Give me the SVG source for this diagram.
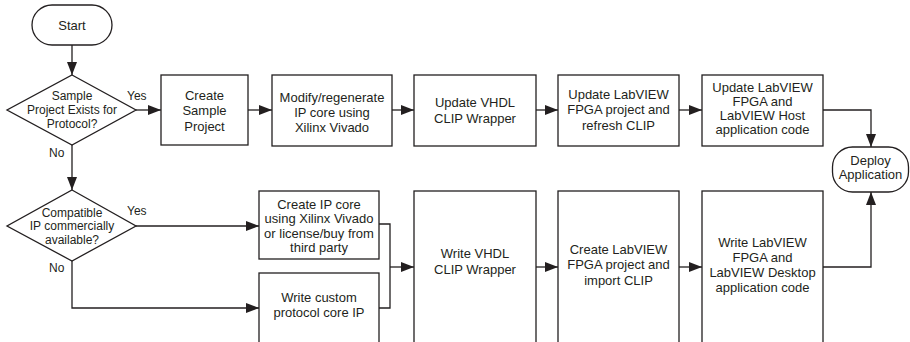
<svg xmlns="http://www.w3.org/2000/svg" width="910" height="342" viewBox="0 0 910 342">
<defs>
<marker id="arr" markerUnits="userSpaceOnUse" markerWidth="13" markerHeight="10" refX="13" refY="5" orient="auto">
<path d="M0,0 L13,5 L0,10 z" fill="#231f20"/>
</marker>
<style>
.shape{fill:#fff;stroke:#231f20;stroke-width:1.3}
.t{font-family:"Liberation Sans",Arial,sans-serif;font-size:13px;fill:#231f20;text-anchor:middle}
.s{font-family:"Liberation Sans",Arial,sans-serif;font-size:12px;fill:#231f20;text-anchor:middle}
.l{font-family:"Liberation Sans",Arial,sans-serif;font-size:12px;fill:#231f20}
.c{fill:none;stroke:#231f20;stroke-width:1.3}
</style>
</defs>
<rect width="910" height="342" fill="#fff"/>
<g id="connectors">
<path class="c" d="M72,45 V75" marker-end="url(#arr)"/>
<path class="c" d="M136,110 H161" marker-end="url(#arr)"/>
<path class="c" d="M248,110 H272" marker-end="url(#arr)"/>
<path class="c" d="M392,110 H414" marker-end="url(#arr)"/>
<path class="c" d="M536,110 H558" marker-end="url(#arr)"/>
<path class="c" d="M679,110 H702" marker-end="url(#arr)"/>
<path class="c" d="M823,110 H871 V147" marker-end="url(#arr)"/>
<path class="c" d="M72,145 V190" marker-end="url(#arr)"/>
<path class="c" d="M136,226 H259" marker-end="url(#arr)"/>
<path class="c" d="M72,261 V308 H259" marker-end="url(#arr)"/>
<path class="c" d="M379,224 H390 V308 H379"/>
<path class="c" d="M390,267 H414" marker-end="url(#arr)"/>
<path class="c" d="M536,267 H558" marker-end="url(#arr)"/>
<path class="c" d="M679,267 H702" marker-end="url(#arr)"/>
<path class="c" d="M823,267 H871 V192" marker-end="url(#arr)"/>
<text class="l" x="127" y="100">Yes</text>
<text class="l" x="49" y="157">No</text>
<text class="l" x="127" y="215">Yes</text>
<text class="l" x="49" y="272">No</text>
</g>
<g id="start">
<rect class="shape" x="32" y="5" width="80" height="40" rx="20"/>
<text class="t" x="72" y="30">Start</text>
</g>
<g id="decision1">
<polygon class="shape" points="72,75 136,110 72,145 7,110"/>
<text class="s" x="72" y="100">Sample</text>
<text class="s" x="72" y="114">Project Exists for</text>
<text class="s" x="72" y="127.5">Protocol?</text>
</g>
<g id="createSample">
<rect class="shape" x="161" y="75" width="87" height="70"/>
<text class="t" x="204.5" y="100">Create</text>
<text class="t" x="204.5" y="115">Sample</text>
<text class="t" x="204.5" y="130.5">Project</text>
</g>
<g id="modifyIP">
<rect class="shape" x="272" y="75" width="120" height="71"/>
<text class="t" x="332" y="101.5">Modify/regenerate</text>
<text class="t" x="332" y="116.5">IP core using</text>
<text class="t" x="332" y="131.5">Xilinx Vivado</text>
</g>
<g id="updateVHDL">
<rect class="shape" x="414" y="75" width="122" height="71"/>
<text class="t" x="475" y="106.5">Update VHDL</text>
<text class="t" x="475" y="122.5">CLIP Wrapper</text>
</g>
<g id="updateFPGA">
<rect class="shape" x="558" y="75" width="121" height="71"/>
<text class="t" x="618.5" y="98.5">Update LabVIEW</text>
<text class="t" x="618.5" y="114">FPGA project and</text>
<text class="t" x="618.5" y="129.5">refresh CLIP</text>
</g>
<g id="updateHost">
<rect class="shape" x="702" y="75" width="121" height="71"/>
<text class="t" x="762.5" y="91.5">Update LabVIEW</text>
<text class="t" x="762.5" y="105.5">FPGA and</text>
<text class="t" x="762.5" y="119.5">LabVIEW Host</text>
<text class="t" x="762.5" y="133.5">application code</text>
</g>
<g id="deploy">
<rect class="shape" x="832.5" y="147" width="76" height="45" rx="20"/>
<text class="t" x="870.5" y="165">Deploy</text>
<text class="t" x="870.5" y="178.5">Application</text>
</g>
<g id="decision2">
<polygon class="shape" points="72,190 136,226 72,261 7,226"/>
<text class="s" x="72" y="216.5">Compatible</text>
<text class="s" x="72" y="230">IP commercially</text>
<text class="s" x="72" y="243.5">available?</text>
</g>
<g id="createIP">
<rect class="shape" x="259" y="191" width="120" height="68"/>
<text class="t" x="319" y="208.5">Create IP core</text>
<text class="t" x="319" y="223">using Xilinx Vivado</text>
<text class="t" x="319" y="237.5">or license/buy from</text>
<text class="t" x="319" y="252">third party</text>
</g>
<g id="customIP">
<rect class="shape" x="259" y="273" width="120" height="90"/>
<text class="t" x="319" y="301.5">Write custom</text>
<text class="t" x="319" y="316.5">protocol core IP</text>
</g>
<g id="writeVHDL">
<rect class="shape" x="414" y="191" width="122" height="170"/>
<text class="t" x="475" y="258">Write VHDL</text>
<text class="t" x="475" y="273.5">CLIP Wrapper</text>
</g>
<g id="createFPGA">
<rect class="shape" x="558" y="191" width="121" height="170"/>
<text class="t" x="618.5" y="253.5">Create LabVIEW</text>
<text class="t" x="618.5" y="269">FPGA project and</text>
<text class="t" x="618.5" y="284.5">import CLIP</text>
</g>
<g id="writeDesktop">
<rect class="shape" x="702" y="191" width="121" height="170"/>
<text class="t" x="762.5" y="246.5">Write LabVIEW</text>
<text class="t" x="762.5" y="261.5">FPGA and</text>
<text class="t" x="762.5" y="276.5">LabVIEW Desktop</text>
<text class="t" x="762.5" y="291.5">application code</text>
</g>
</svg>
